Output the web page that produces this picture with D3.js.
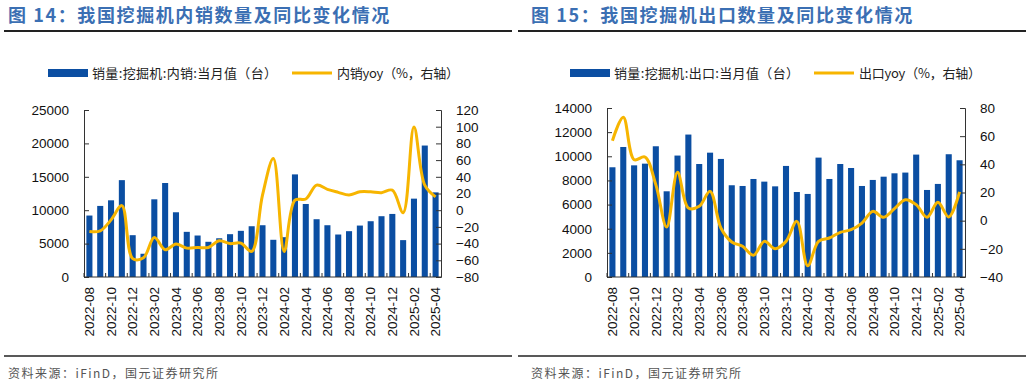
<!DOCTYPE html>
<html>
<head>
<meta charset="utf-8">
<script src="https://cdn.jsdelivr.net/npm/d3@7.9.0/dist/d3.min.js"></script>
<style>
  body { margin: 0; background: #fff; }
  svg { display: block; font-family: "Liberation Sans", Arial, "Noto Sans CJK SC", sans-serif; }
  .cjk { font-family: "Noto Sans CJK SC", sans-serif; }
</style>
</head>
<body>
<svg id="chart" width="1032" height="386"></svg>
<script>
const months = ['2022-08','2022-09','2022-10','2022-11','2022-12','2023-01','2023-02','2023-03','2023-04','2023-05','2023-06',
  '2023-07','2023-08','2023-09','2023-10','2023-11','2023-12','2024-01','2024-02','2024-03','2024-04','2024-05','2024-06',
  '2024-07','2024-08','2024-09','2024-10','2024-11','2024-12','2025-01','2025-02','2025-03','2025-04'];

// 图14 内销
const domesticSales = [9200,10640,11480,14500,6260,3480,11630,14070,9690,6760,6210,5270,5800,6410,6910,7600,7750,5570,
  5960,15360,10930,8650,7750,6360,6860,7700,8350,9100,9440,5520,11730,19680,12670];
const domesticYoy = [-25.5,-24.7,-11.6,5.5,-58,-57,-32.7,-47.4,-40.6,-45.4,-44.6,-44.6,-36.7,-40,-39.4,-49.4,18,62,
  -49.4,12,13.4,30,25,21.4,18.2,22,22,21,24,-3,99.7,30,16];

// 图15 出口
const exportSales = [9090,10770,9250,9390,10830,7100,10060,11800,9360,10300,9780,7600,7540,8120,7900,7510,9200,7040,
  6880,9890,8120,9360,9030,7540,8040,8310,8590,8650,10140,7210,7710,10170,9670];
const exportYoy = [56.8,73.4,43.3,45.2,25.6,-4.5,34.3,9,10.2,20.8,-5.2,-15.1,-18.2,-24.6,-14.7,-19.9,-14.7,-0.5,
  -32,-14.7,-12.3,-8.3,-6.4,-1.7,6.6,2.4,8.5,14.9,11.4,2.4,13,2.6,20.4];

const leftTicks14 = [0,5000,10000,15000,20000,25000];
const rightTicks14 = [-80,-60,-40,-20,0,20,40,60,80,100,120];
const leftTicks15 = [0,2000,4000,6000,8000,10000,12000,14000];
const rightTicks15 = [-40,-20,0,20,40,60,80];

const BAR = '#0b4ea2';
const LINE = '#f7b500';
const TITLE = '#3b6fb3';

const svg = d3.select('#chart');

function drawPanel(o) {
  const g = svg.append('g');

  // title + rules
  g.append('text').attr('class', 'cjk')
    .attr('x', o.textX).attr('y', 22)
    .attr('fill', TITLE).attr('font-size', 18).attr('font-weight', 'bold')
    .attr('letter-spacing', 1.6)
    .text(o.title);
  g.append('line').attr('x1', o.x0).attr('x2', o.x0 + 508).attr('y1', 31).attr('y2', 31)
    .attr('stroke', '#222').attr('stroke-width', 2);
  g.append('line').attr('x1', o.x0).attr('x2', o.x0 + 508).attr('y1', 356).attr('y2', 356)
    .attr('stroke', '#222').attr('stroke-width', 1.5);
  g.append('text').attr('class', 'cjk')
    .attr('x', o.textX).attr('y', 378)
    .attr('fill', '#555').attr('font-size', 12)
    .attr('textLength', 210).attr('lengthAdjust', 'spacing')
    .text('资料来源：iFinD，国元证券研究所');

  // legend
  g.append('rect').attr('x', o.legX).attr('y', 69).attr('width', 40).attr('height', 8).attr('fill', BAR);
  g.append('text').attr('class', 'cjk').attr('x', o.legX + 44).attr('y', 78)
    .attr('font-size', 13).attr('fill', '#222')
    .attr('textLength', 185).attr('lengthAdjust', 'spacing')
    .text(o.barName);
  g.append('line').attr('x1', o.legX2).attr('x2', o.legX2 + 40).attr('y1', 73).attr('y2', 73)
    .attr('stroke', LINE).attr('stroke-width', 3);
  g.append('text').attr('class', 'cjk').attr('x', o.legX2 + 45).attr('y', 78)
    .attr('font-size', 13).attr('fill', '#222')
    .attr('textLength', 122).attr('lengthAdjust', 'spacing')
    .text(o.lineName);

  const x = d3.scaleBand().domain(months).range([o.left, o.right]).paddingInner(0.44).paddingOuter(0.22);
  const y = d3.scaleLinear().domain(o.yDom).range([o.bottom, o.top]);
  const y2 = d3.scaleLinear().domain(o.y2Dom).range([o.bottom, o.top]);

  // bars
  g.append('g').selectAll('rect').data(o.bars).join('rect')
    .attr('x', (d, i) => x(months[i]))
    .attr('width', x.bandwidth())
    .attr('y', d => y(d))
    .attr('height', d => y(0) - y(d))
    .attr('fill', BAR);

  // axes
  const yAxis = g.append('g').attr('transform', `translate(${o.left},0)`)
    .call(d3.axisLeft(y).tickValues(o.yTicks).tickFormat(d3.format('d')).tickSize(-5).tickPadding(15));
  const y2Axis = g.append('g').attr('transform', `translate(${o.right},0)`)
    .call(d3.axisRight(y2).tickValues(o.y2Ticks).tickFormat(d3.format('d')).tickSize(-5).tickPadding(15));
  [yAxis, y2Axis].forEach(a => {
    a.select('.domain').attr('stroke', '#333');
    a.selectAll('.tick line').attr('stroke', '#333');
    a.selectAll('text').attr('font-size', 13.5).attr('fill', '#111')
      .attr('font-family', '"Liberation Sans", Arial, sans-serif');
  });

  // x axis
  const xa = g.append('g');
  xa.append('line').attr('x1', o.left).attr('x2', o.right).attr('y1', o.bottom).attr('y2', o.bottom)
    .attr('stroke', '#333');
  const labelled = months.filter((m, i) => i % 2 === 0);
  const boundaries = labelled.map(m => x(m) - (x.step() - x.bandwidth()) / 2);
  xa.selectAll('line.tk').data(boundaries).join('line').attr('class', 'tk')
    .attr('x1', d => d).attr('x2', d => d).attr('y1', o.bottom).attr('y2', o.bottom - 4)
    .attr('stroke', '#333');
  xa.selectAll('text').data(labelled).join('text')
    .attr('transform', d => `translate(${x(d) + x.bandwidth() / 2},${o.bottom + 10}) rotate(-90)`)
    .attr('text-anchor', 'end').attr('dy', '0.35em')
    .attr('font-size', 13.5).attr('fill', '#111')
    .text(d => d);

  // yoy line
  const line = d3.line()
    .x((d, i) => x(months[i]) + x.bandwidth() / 2)
    .y(d => y2(d))
    .curve(d3.curveCatmullRom.alpha(0.5));
  g.append('path').datum(o.yoy).attr('d', line)
    .attr('fill', 'none').attr('stroke', LINE).attr('stroke-width', 3)
    .attr('stroke-linejoin', 'round');
}

drawPanel({
  x0: 4, textX: 8, title: '图 14：我国挖掘机内销数量及同比变化情况',
  barName: '销量:挖掘机:内销:当月值（台）', lineName: '内销yoy（%，右轴）',
  legX: 48, legX2: 292,
  left: 84, right: 441, top: 110, bottom: 277,
  yDom: [0, 25000], y2Dom: [-80, 120], yTicks: leftTicks14, y2Ticks: rightTicks14,
  bars: domesticSales, yoy: domesticYoy
});

drawPanel({
  x0: 518, textX: 531, title: '图 15：我国挖掘机出口数量及同比变化情况',
  barName: '销量:挖掘机:出口:当月值（台）', lineName: '出口yoy（%，右轴）',
  legX: 570, legX2: 814,
  left: 607, right: 965, top: 108, bottom: 277,
  yDom: [0, 14000], y2Dom: [-40, 80], yTicks: leftTicks15, y2Ticks: rightTicks15,
  bars: exportSales, yoy: exportYoy
});
</script>
</body>
</html>
